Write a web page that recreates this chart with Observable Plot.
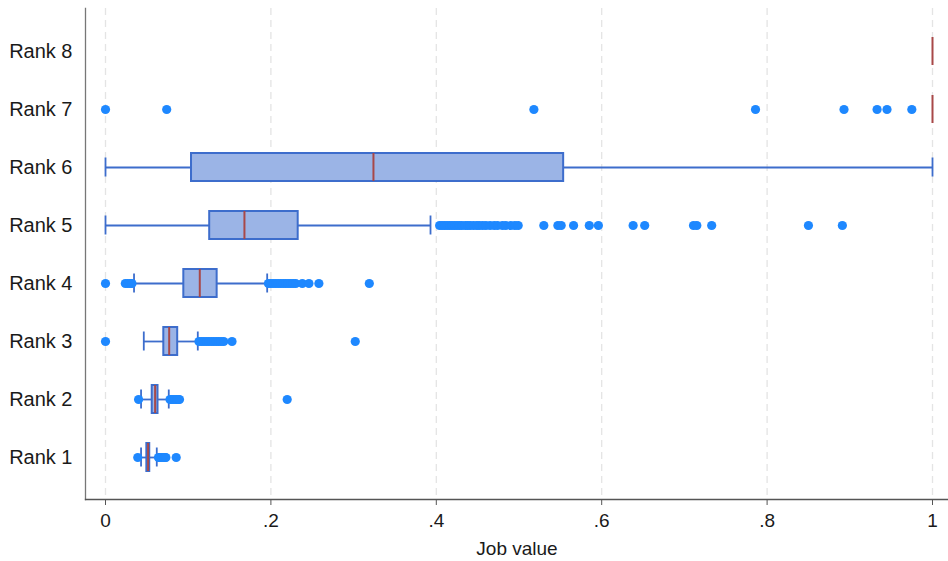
<!DOCTYPE html>
<html>
<head>
<meta charset="utf-8">
<script src="https://cdn.jsdelivr.net/npm/d3@7"></script>
<script src="https://cdn.jsdelivr.net/npm/@observablehq/plot@0.6"></script>
<style>
  html, body { margin: 0; padding: 0; background: #fff; }
  #chart svg { display: block; }
</style>
</head>
<body>
<div id="chart"></div>
<script>
const ranks = ["Rank 8", "Rank 7", "Rank 6", "Rank 5", "Rank 4", "Rank 3", "Rank 2", "Rank 1"];
const lowerWhisker = [1, 1, 0, 0, 0.0345, 0.0463, 0.043, 0.043];
const q1 =           [1, 1, 0.104, 0.126, 0.0947, 0.0705, 0.0565, 0.0500];
const medians =      [1, 1, 0.324, 0.168, 0.114, 0.077, 0.0600, 0.0515];
const q3 =           [1, 1, 0.554, 0.233, 0.135, 0.0873, 0.0635, 0.0535];
const upperWhisker = [1, 1, 1, 0.393, 0.1955, 0.1116, 0.0765, 0.062];

const outliersRank8 = [];
const outliersRank7 = [0, 0.074, 0.518, 0.786, 0.893, 0.933, 0.945, 0.975];
const outliersRank6 = [];
const outliersRank5 = [0.404, 0.407, 0.410, 0.413, 0.416, 0.419, 0.422, 0.425, 0.428, 0.431, 0.435, 0.438, 0.441, 0.445, 0.449, 0.452, 0.456, 0.460, 0.465, 0.470, 0.474, 0.480, 0.484, 0.490, 0.495, 0.499,
  0.530, 0.547, 0.551, 0.566, 0.585, 0.596, 0.638, 0.652, 0.711, 0.715, 0.733, 0.850, 0.891];
const outliersRank4 = [0, 0.024, 0.027, 0.030, 0.032, 0.197, 0.200, 0.203, 0.206, 0.209, 0.212, 0.215, 0.218, 0.221, 0.224, 0.227, 0.230, 0.238, 0.246, 0.258, 0.319];
const outliersRank3 = [0, 0.113, 0.116, 0.119, 0.122, 0.125, 0.128, 0.131, 0.134, 0.137, 0.140, 0.143, 0.153, 0.302];
const outliersRank2 = [0.040, 0.078, 0.080, 0.082, 0.084, 0.086, 0.088, 0.0895, 0.2197];
const outliersRank1 = [0.039, 0.064, 0.066, 0.068, 0.070, 0.072, 0.073, 0.0855];

const xTicks = [0, 0.2, 0.4, 0.6, 0.8, 1];

const outlierLists = [outliersRank8, outliersRank7, outliersRank6, outliersRank5, outliersRank4, outliersRank3, outliersRank2, outliersRank1];

const stats = ranks.map((rank, i) => ({
  rank, lw: lowerWhisker[i], q1: q1[i], med: medians[i], q3: q3[i], uw: upperWhisker[i]
}));
const outliers = ranks.flatMap((rank, i) => outlierLists[i].map(v => ({rank, value: v})));
const boxes = stats.filter(d => d.q3 > d.q1);
const whiskered = stats.filter(d => d.uw > d.lw);

const fmt = d => d === 0 ? "0" : d === 1 ? "1" : String(d).replace(/^0/, "");

const boxStroke = "#3d6dcc";
const boxFill = "#9bb4e6";
const medianColor = "#a84848";
const dotColor = "#1e88ff";

const chart = Plot.plot({
  width: 948,
  height: 561,
  marginLeft: 85,
  marginRight: 0,
  marginTop: 8,
  marginBottom: 62,
  style: {fontFamily: "Liberation Sans, Arial, sans-serif", fontSize: "19px", color: "#1a1a1a", background: "#fff"},
  x: {domain: [-20 / 827, 843 / 827], ticks: xTicks, tickFormat: fmt, label: null},
  y: {type: "band", domain: ranks, range: [19.75, 488.25], paddingInner: 0.52, paddingOuter: 0.26, label: null},
  marks: [
    Plot.ruleX(xTicks, {stroke: "#e4e4e4", strokeWidth: 1.3, strokeDasharray: "7,5"}),
    Plot.ruleY(whiskered, {y: "rank", x1: "lw", x2: "q1", stroke: boxStroke, strokeWidth: 1.8}),
    Plot.ruleY(whiskered, {y: "rank", x1: "q3", x2: "uw", stroke: boxStroke, strokeWidth: 1.8}),
    Plot.tickX(whiskered, {y: "rank", x: "lw", stroke: boxStroke, strokeWidth: 1.8, insetTop: 4.5, insetBottom: 4.5}),
    Plot.tickX(whiskered, {y: "rank", x: "uw", stroke: boxStroke, strokeWidth: 1.8, insetTop: 4.5, insetBottom: 4.5}),
    Plot.barX(boxes, {y: "rank", x1: "q1", x2: "q3", fill: boxFill, stroke: boxStroke, strokeWidth: 2}),
    Plot.tickX(stats, {y: "rank", x: "med", stroke: medianColor, strokeWidth: 2}),
    Plot.dot(outliers, {y: "rank", x: "value", r: 4.6, fill: dotColor, stroke: "none"}),
    Plot.axisY({tickSize: 0, tickPadding: 13, fontSize: 20, label: null}),
    Plot.axisX({ticks: xTicks, tickFormat: fmt, tickSize: 6, tickPadding: 8, fontSize: 19, label: null, stroke: "#555"}),
    Plot.text(["Job value"], {frameAnchor: "bottom", dy: 55, fontSize: 19, fill: "#1a1a1a"}),
    Plot.frame({anchor: "left", stroke: "#777", strokeWidth: 1.3}),
    Plot.frame({anchor: "bottom", stroke: "#555", strokeWidth: 1.3})
  ]
});
document.getElementById("chart").appendChild(chart);
</script>
</body>
</html>
